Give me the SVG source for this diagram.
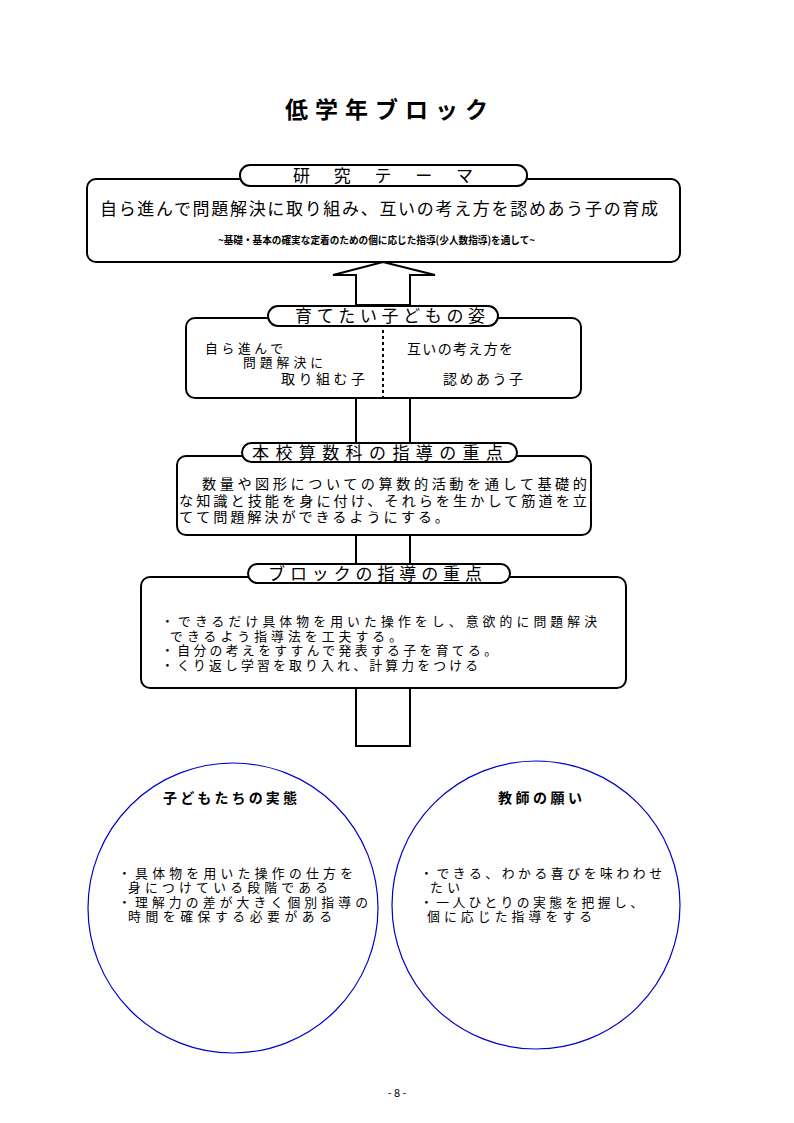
<svg xmlns="http://www.w3.org/2000/svg" width="794" height="1123" viewBox="0 0 794 1123">
<style>
text{font-family:"Noto Sans CJK JP","Noto Sans CJK SC",sans-serif;fill:#000}
.box{fill:#fff;stroke:#000;stroke-width:2}
.pill{fill:#fff;stroke:#000;stroke-width:2}
.ln{fill:none;stroke:#000;stroke-width:2}
.circ{fill:none;stroke:#0000cc;stroke-width:1.2}
.lbl{font-size:17px}
.t14{font-size:14px}
.t13{font-size:12.8px;font-family:"Liberation Sans","Noto Sans CJK JP","Noto Sans CJK SC",sans-serif}
.t15{font-size:14.2px;font-family:"Liberation Sans","Noto Sans CJK JP","Noto Sans CJK SC",sans-serif}
.b14{font-size:14px;font-weight:bold}
</style>
<rect width="794" height="1123" fill="#fff"/>
<text id="title" x="285" y="118" font-size="23" font-weight="bold" textLength="203" lengthAdjust="spacing">低学年ブロック</text>

<g id="connectors">
  <polygon class="ln" fill="#fff" points="356,305 356,275 333,275 383,262 435,275 410,275 410,305"/>
  <line class="ln" x1="356" y1="398" x2="356" y2="445"/>
  <line class="ln" x1="410" y1="398" x2="410" y2="445"/>
  <line class="ln" x1="356" y1="535" x2="356" y2="566"/>
  <line class="ln" x1="410" y1="535" x2="410" y2="566"/>
  <polyline class="ln" points="356,688 356,746 410,746 410,688"/>
</g>

<g id="theme">
  <rect class="box" x="87" y="179" width="593" height="83" rx="9"/>
  <rect class="pill" x="240" y="165" width="287" height="21" rx="10"/>
  <text class="lbl" x="293" y="182" textLength="180" lengthAdjust="spacing">研　究　テ　ー　マ</text>
  <text x="100" y="215" font-size="17" textLength="558" lengthAdjust="spacing">自ら進んで問題解決に取り組み、互いの考え方を認めあう子の育成</text>
  <text x="218" y="244" font-size="10.5" font-weight="bold" textLength="317" lengthAdjust="spacingAndGlyphs">~基礎・基本の確実な定着のための個に応じた指導(少人数指導)を通して~</text>
</g>

<g id="sugata">
  <rect class="box" x="186" y="318" width="395" height="80" rx="9"/>
  <rect class="pill" x="268" y="306" width="230" height="20" rx="10"/>
  <text class="lbl" x="295" y="322" textLength="190" lengthAdjust="spacing">育てたい子どもの姿</text>
  <line x1="383" y1="330" x2="383" y2="398" stroke="#000" stroke-width="2" stroke-dasharray="3,3"/>
  <text class="t13" x="205" y="353" textLength="78" lengthAdjust="spacing">自ら進んで</text>
  <text class="t13" x="243" y="367" textLength="80" lengthAdjust="spacing">問題解決に</text>
  <text class="t14" x="281" y="384" textLength="84" lengthAdjust="spacing">取り組む子</text>
  <text class="t14" x="407" y="354" textLength="106" lengthAdjust="spacing">互いの考え方を</text>
  <text class="t14" x="443" y="384" textLength="80" lengthAdjust="spacing">認めあう子</text>
</g>

<g id="honkou">
  <rect class="box" x="177" y="456" width="414" height="79" rx="9"/>
  <rect class="pill" x="242" y="443" width="275" height="19" rx="9.5"/>
  <text class="lbl" x="252" y="459" textLength="251" lengthAdjust="spacing">本校算数科の指導の重点</text>
  <text class="t15" x="202" y="489" textLength="385" lengthAdjust="spacing">数量や図形についての算数的活動を通して基礎的</text>
  <text class="t15" x="179" y="505.5" textLength="408" lengthAdjust="spacing">な知識と技能を身に付け、それらを生かして筋道を立</text>
  <text class="t15" x="179" y="522" textLength="270" lengthAdjust="spacing">てて問題解決ができるようにする。</text>
</g>

<g id="block">
  <rect class="box" x="141" y="577" width="485" height="111" rx="9"/>
  <rect class="pill" x="248" y="564" width="262" height="19" rx="9.5"/>
  <text class="lbl" x="268" y="580" textLength="214" lengthAdjust="spacing">ブロックの指導の重点</text>
  <text class="t13" x="161" y="626" textLength="436" lengthAdjust="spacing">・できるだけ具体物を用いた操作をし、意欲的に問題解決</text>
  <text class="t13" x="170" y="640.5" textLength="232" lengthAdjust="spacing">できるよう指導法を工夫する。</text>
  <text class="t13" x="161" y="655" textLength="336" lengthAdjust="spacing">・自分の考えをすすんで発表する子を育てる。</text>
  <text class="t13" x="161" y="669.5" textLength="317" lengthAdjust="spacing">・くり返し学習を取り入れ、計算力をつける</text>
</g>

<g id="jittai">
  <circle class="circ" cx="233" cy="908" r="145"/>
  <text class="b14" x="163" y="803" textLength="134" lengthAdjust="spacing">子どもたちの実態</text>
  <text class="t13" x="118" y="877.5" textLength="235" lengthAdjust="spacing">・具体物を用いた操作の仕方を</text>
  <text class="t13" x="128" y="892" textLength="200" lengthAdjust="spacing">身につけている段階である</text>
  <text class="t13" x="118" y="906.5" textLength="250" lengthAdjust="spacing">・理解力の差が大きく個別指導の</text>
  <text class="t13" x="128" y="921" textLength="204" lengthAdjust="spacing">時間を確保する必要がある</text>
</g>

<g id="negai">
  <circle class="circ" cx="536" cy="905" r="144"/>
  <text class="b14" x="498" y="803" textLength="84" lengthAdjust="spacing">教師の願い</text>
  <text class="t13" x="420" y="877.5" textLength="242" lengthAdjust="spacing">・できる、わかる喜びを味わわせ</text>
  <text class="t13" x="430" y="892" textLength="30" lengthAdjust="spacing">たい</text>
  <text class="t13" x="420" y="906.5" textLength="223" lengthAdjust="spacing">・一人ひとりの実態を把握し、</text>
  <text class="t13" x="427" y="921" textLength="165" lengthAdjust="spacing">個に応じた指導をする</text>
</g>

<text id="page" x="397" y="1097" font-size="11" text-anchor="middle" fill="#333">- 8 -</text>
</svg>
